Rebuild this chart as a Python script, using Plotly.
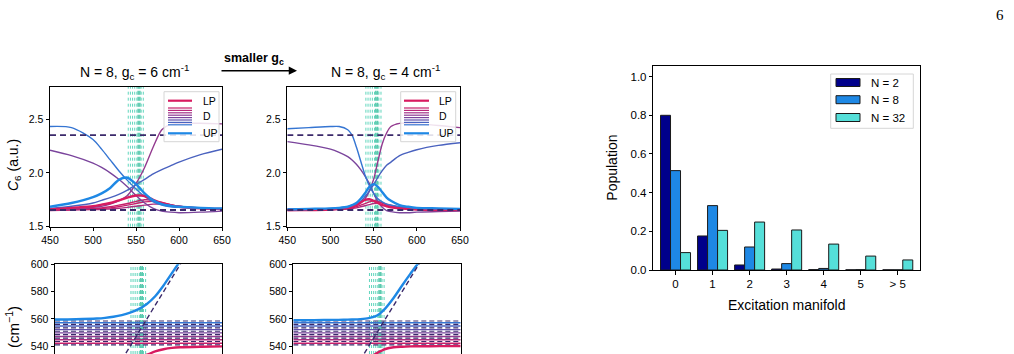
import plotly.graph_objects as go

W, H = 1014, 354
FONT = "Liberation Sans"

# ---------------- data: top panels (C6 vs cavity frequency) ----------------
XT1 = [450, 475, 500, 510, 520, 530, 540, 550, 560, 570, 580, 590, 600, 625, 650]
TL_LP = [1.66, 1.675, 1.69, 1.705, 1.72, 1.745, 1.77, 1.79, 1.785, 1.75, 1.72, 1.70, 1.685, 1.67, 1.665]
TL_UP = [1.685, 1.72, 1.775, 1.81, 1.86, 1.935, 1.955, 1.895, 1.81, 1.745, 1.71, 1.695, 1.685, 1.675, 1.67]
TL_A = [2.43, 2.42, 2.31, 2.22, 2.12, 2.02, 1.93, 1.85, 1.78, 1.73, 1.70, 1.685, 1.68, 1.67, 1.665]
TL_B = [2.21, 2.16, 2.09, 2.05, 2.00, 1.94, 1.87, 1.79, 1.72, 1.67, 1.645, 1.635, 1.63, 1.635, 1.645]
TL_C = [1.66, 1.665, 1.68, 1.69, 1.71, 1.74, 1.79, 1.90, 2.05, 2.24, 2.40, 2.45, 2.46, 2.46, 2.455]
TL_R = [1.67, 1.69, 1.72, 1.745, 1.77, 1.80, 1.84, 1.89, 1.94, 1.99, 2.03, 2.065, 2.10, 2.17, 2.22]
TL_D1 = [1.655, 1.66, 1.67, 1.675, 1.685, 1.70, 1.715, 1.735, 1.75, 1.745, 1.72, 1.70, 1.685, 1.67, 1.665]
TL_D2 = [1.655, 1.66, 1.665, 1.67, 1.675, 1.685, 1.70, 1.715, 1.73, 1.735, 1.725, 1.705, 1.69, 1.67, 1.665]
TL_D3 = [1.65, 1.655, 1.66, 1.66, 1.665, 1.67, 1.68, 1.69, 1.70, 1.71, 1.71, 1.70, 1.69, 1.67, 1.66]

XT2 = [450, 475, 500, 510, 520, 525, 530, 535, 540, 545, 550, 555, 560, 565, 570, 580, 590, 600, 625, 650]
TR_A = [2.41, 2.42, 2.43, 2.43, 2.40, 2.35, 2.24, 2.11, 1.98, 1.88, 1.81, 1.76, 1.73, 1.71, 1.70, 1.685, 1.675, 1.67, 1.665, 1.665]
TR_B = [2.29, 2.26, 2.22, 2.19, 2.15, 2.12, 2.08, 2.03, 1.97, 1.90, 1.81, 1.73, 1.68, 1.65, 1.64, 1.63, 1.63, 1.635, 1.64, 1.645]
TR_C = [1.66, 1.66, 1.665, 1.67, 1.68, 1.69, 1.70, 1.72, 1.76, 1.83, 1.94, 2.11, 2.27, 2.37, 2.43, 2.46, 2.46, 2.455, 2.44, 2.42]
TR_R = [1.665, 1.665, 1.67, 1.675, 1.685, 1.695, 1.71, 1.735, 1.78, 1.83, 1.89, 1.96, 2.02, 2.07, 2.10, 2.16, 2.19, 2.215, 2.255, 2.28]
TR_UP = [1.66, 1.665, 1.67, 1.675, 1.685, 1.70, 1.72, 1.76, 1.81, 1.87, 1.895, 1.87, 1.82, 1.77, 1.74, 1.70, 1.685, 1.675, 1.67, 1.665]
TR_LP = [1.655, 1.655, 1.66, 1.665, 1.675, 1.685, 1.70, 1.725, 1.75, 1.755, 1.74, 1.72, 1.70, 1.69, 1.68, 1.67, 1.665, 1.66, 1.655, 1.655]
TR_D1 = [1.655, 1.655, 1.66, 1.665, 1.67, 1.675, 1.685, 1.70, 1.715, 1.73, 1.74, 1.735, 1.72, 1.70, 1.69, 1.675, 1.665, 1.66, 1.655, 1.655]
TR_D2 = [1.65, 1.655, 1.655, 1.66, 1.665, 1.67, 1.675, 1.685, 1.695, 1.705, 1.715, 1.72, 1.72, 1.71, 1.70, 1.68, 1.67, 1.665, 1.66, 1.655]

C6_MOL = [2.35, 1.655]          # dashed reference levels
X_SPAN = [450, 650]

# ---------------- data: bottom panels (energies) ----------------
XB = [450, 475, 500, 510, 520, 530, 540, 550, 560, 570, 580, 590, 600, 610]
BL_UP = [559.6, 559.8, 560.3, 560.8, 561.6, 562.8, 564.6, 567.2, 571.0, 576.6, 584.5, 593.5, 602.5, 612]
BR_UP = [559.0, 559.1, 559.3, 559.4, 559.6, 559.9, 560.6, 562.5, 567.8, 575.5, 584.5, 593.2, 601.5, 610]
XB_LP = [530, 540, 550, 555, 560, 570, 580, 590, 600, 625, 650]
BL_LP = [522, 527.5, 531.5, 532.8, 533.8, 536.2, 537.8, 538.8, 539.3, 539.7, 539.9]
BR_LP = [525, 531, 535, 536.6, 538, 539.3, 539.7, 539.9, 540.0, 540.1, 540.2]
CAV_X = [450, 650]
CAV_Y = [450, 650]
MOL = [541.0, 543.5, 546.0, 548.5, 551.0, 553.5, 556.0, 558.5]
DARK = [542.2, 544.8, 547.2, 549.8, 552.2, 554.8, 557.2]
V_THICK = [552.5, 554.5]

# ---------------- data: bar chart ----------------
MANIFOLD = ["0", "1", "2", "3", "4", "5", "> 5"]
POP_N2 = [0.80, 0.176, 0.026, 0.005, 0.002, 0.001, 0.001]
POP_N8 = [0.514, 0.333, 0.119, 0.033, 0.008, 0.002, 0.001]
POP_N32 = [0.09, 0.205, 0.248, 0.207, 0.134, 0.072, 0.052]

# ---------------- styles ----------------
C_LP = "#d81b60"
C_UP = "#1e88e5"
C_DARK = "#3b2a6b"
C_GREEN = "#4fd1b5"
D_COLS = ["#c51f6a", "#ad2d7e", "#933a8f", "#7a449c", "#6150ac", "#4a62bf", "#3575d2"]


def PX(px):
    return px / W


def PY(py):
    return 1 - py / H


fig = go.Figure()


def line(x, y, color, width, ax, dash="solid", spline=True):
    fig.add_trace(go.Scatter(
        x=x, y=y, mode="lines",
        line=dict(color=color, width=width, dash=dash,
                  shape="spline" if spline else "linear", smoothing=0.8),
        xaxis="x" + ax, yaxis="y" + ax, showlegend=False, hoverinfo="skip"))


# top-left
for ys, c in [(TL_D3, D_COLS[1]), (TL_D2, D_COLS[0]), (TL_D1, D_COLS[0]),
              (TL_B, D_COLS[3]), (TL_C, D_COLS[2]), (TL_R, D_COLS[5]), (TL_A, D_COLS[6])]:
    line(XT1, ys, c, 1.4, "")
line(XT1, TL_LP, C_LP, 2.4, "")
line(XT1, TL_UP, C_UP, 2.4, "")
for v in C6_MOL:
    line(X_SPAN, [v, v], C_DARK, 1.8, "", dash="6px,4px", spline=False)

# top-right
for ys, c in [(TR_D2, D_COLS[1]), (TR_D1, D_COLS[0]),
              (TR_B, D_COLS[3]), (TR_C, D_COLS[2]), (TR_R, D_COLS[5]), (TR_A, D_COLS[6])]:
    line(XT2, ys, c, 1.4, "2")
line(XT2, TR_LP, C_LP, 2.4, "2")
line(XT2, TR_UP, C_UP, 2.4, "2")
for v in C6_MOL:
    line(X_SPAN, [v, v], C_DARK, 1.8, "2", dash="6px,4px", spline=False)

# bottom panels
for ax, up, lp in [("3", BL_UP, BL_LP), ("4", BR_UP, BR_LP)]:
    for e, c in zip(DARK, D_COLS):
        line(X_SPAN, [e, e], c, 1.4, ax, spline=False)
    for m in MOL:
        line(X_SPAN, [m, m], C_DARK, 1.2, ax, dash="5px,3px", spline=False)
    line(XB, up, C_UP, 2.4, ax)
    line(XB_LP, lp, C_LP, 2.4, ax)
    line(CAV_X, CAV_Y, C_DARK, 1.4, ax, dash="5px,3px", spline=False)

# bar chart
for vals, c, off in [(POP_N2, "#00008b", -0.27), (POP_N8, "#1e88e5", 0.0), (POP_N32, "#55dfd9", 0.27)]:
    fig.add_trace(go.Bar(
        x=list(range(len(MANIFOLD))), y=vals, width=0.27, offset=off - 0.135,
        marker=dict(color=c, line=dict(color="#1a1a1a", width=1)),
        xaxis="x5", yaxis="y5", showlegend=False, hoverinfo="skip"))

# vertical molecular-frequency lines in the four left panels
shapes = []
for ax in ["", "2", "3", "4"]:
    for m in MOL:
        shapes.append(dict(type="line", xref="x" + ax, yref=("y" + ax) + " domain",
                           x0=m, x1=m, y0=0, y1=1, layer="below",
                           line=dict(color=C_GREEN, width=0.9, dash="dot")))
    for m in V_THICK:
        shapes.append(dict(type="line", xref="x" + ax, yref=("y" + ax) + " domain",
                           x0=m, x1=m, y0=0, y1=1, layer="below",
                           line=dict(color="#5cc9ae", width=1.5, dash="4px,2px")))

# legends of top panels (drawn)
for bx0, lx0, lx1, tx in [(164, 168, 192, 201), (400.7, 404, 429, 436.7)]:
    shapes.append(dict(type="rect", xref="paper", yref="paper",
                       x0=PX(bx0), x1=PX(bx0 + 55), y0=PY(141.7), y1=PY(91.7),
                       fillcolor="rgba(255,255,255,0.85)", line=dict(color="#d6d6d6", width=1)))
    shapes.append(dict(type="line", xref="paper", yref="paper", x0=PX(lx0), x1=PX(lx1),
                       y0=PY(100.7), y1=PY(100.7), line=dict(color=C_LP, width=2.2)))
    for i, c in enumerate(["#c51f6a", "#b9277a", "#a43287", "#8e3c93", "#7a449c", "#6150ac", "#4a62bf", "#3575d2"]):
        yy = 108 + i * 2.4
        shapes.append(dict(type="line", xref="paper", yref="paper", x0=PX(lx0), x1=PX(lx1),
                           y0=PY(yy), y1=PY(yy), line=dict(color=c, width=1.2)))
    shapes.append(dict(type="line", xref="paper", yref="paper", x0=PX(lx0), x1=PX(lx1),
                       y0=PY(133.3), y1=PY(133.3), line=dict(color=C_UP, width=2.2)))

# legend of bar chart (drawn)
shapes.append(dict(type="rect", xref="paper", yref="paper",
                   x0=PX(830.7), x1=PX(913.3), y0=PY(128.3), y1=PY(74),
                   fillcolor="white", line=dict(color="#d6d6d6", width=1)))
for py, c in [(82.5, "#00008b"), (99.7, "#1e88e5"), (117.5, "#55dfd9")]:
    shapes.append(dict(type="rect", xref="paper", yref="paper",
                       x0=PX(836), x1=PX(860), y0=PY(py + 4), y1=PY(py - 4),
                       fillcolor=c, line=dict(color="#1a1a1a", width=1)))

ann = []


def text(px, py, s, size=11, xanchor="center", yanchor="middle", angle=0, family=FONT):
    ann.append(dict(x=PX(px), y=PY(py), xref="paper", yref="paper", text=s, showarrow=False,
                    xanchor=xanchor, yanchor=yanchor, textangle=angle,
                    font=dict(family=family, size=size, color="black")))


for tx in [201, 436.7]:
    text(tx, 100.7, "LP", 10.5, xanchor="left")
    text(tx, 116.5, "D", 10.5, xanchor="left")
    text(tx, 133.3, "UP", 10.5, xanchor="left")
for py, s in [(82.5, "N = 2"), (99.7, "N = 8"), (117.5, "N = 32")]:
    text(869, py, s, 11.5, xanchor="left")

text(134, 72, "N = 8, g<sub>c</sub> = 6 cm<sup>-1</sup>", 14)
text(385, 72, "N = 8, g<sub>c</sub> = 4 cm<sup>-1</sup>", 14)
text(254, 59, "<b>smaller g<sub>c</sub></b>", 12.5)
ann.append(dict(x=PX(297), y=PY(70.7), xref="paper", yref="paper", ax=-77, ay=0,
                axref="pixel", ayref="pixel", showarrow=True, arrowhead=2, arrowsize=1.1,
                arrowwidth=1.5, arrowcolor="black", text=""))
text(14, 165, "<i>C</i><sub>6</sub> (a.u.)", 14, angle=-90)
text(12, 327, "(cm<sup>−1</sup>)", 15, angle=-90)
text(611.7, 168, "Population", 14, angle=-90)
text(786.7, 305, "Excitation manifold", 14)
text(1000, 15, "6", 15, family="Liberation Serif")

axis_common = dict(showgrid=False, zeroline=False, ticks="outside", ticklen=3.5, tickwidth=0.8,
                   tickcolor="black", linecolor="black", linewidth=1, showline=True,
                   automargin=False,
                   tickfont=dict(family=FONT, size=10.5, color="black"))

top_y = [PY(226.7), PY(86.7)]
bot_y = [0, PY(264.3)]

layout = dict(
    template="none",
    width=W, height=H, margin=dict(l=0, r=0, t=0, b=0, pad=0), autosize=False,
    paper_bgcolor="white", plot_bgcolor="white", showlegend=False,
    barmode="overlay",
    shapes=shapes, annotations=ann,
    xaxis=dict(axis_common, domain=[PX(50), PX(222)], range=[450, 650], mirror=True,
               tickvals=[450, 500, 550, 600, 650], anchor="y"),
    yaxis=dict(axis_common, domain=top_y, range=[1.5, 2.8], mirror=True,
               tickvals=[1.5, 2.0, 2.5], tickformat=".1f", anchor="x"),
    xaxis2=dict(axis_common, domain=[PX(287.3), PX(460)], range=[450, 650], mirror=True,
                tickvals=[450, 500, 550, 600, 650], anchor="y2"),
    yaxis2=dict(axis_common, domain=top_y, range=[1.5, 2.8], mirror=True,
                tickvals=[1.5, 2.0, 2.5], tickformat=".1f", anchor="x2"),
    xaxis3=dict(axis_common, domain=[PX(55), PX(222)], range=[450, 650], side="top",
                ticks="", showticklabels=False, mirror=False, anchor="y3"),
    yaxis3=dict(axis_common, domain=bot_y, range=[534.35, 600], mirror=True,
                tickvals=[540, 560, 580, 600], anchor="x3"),
    xaxis4=dict(axis_common, domain=[PX(293.3), PX(460.7)], range=[450, 650], side="top",
                ticks="", showticklabels=False, mirror=False, anchor="y4"),
    yaxis4=dict(axis_common, domain=bot_y, range=[534.35, 600], mirror=True,
                tickvals=[540, 560, 580, 600], anchor="x4"),
    xaxis5=dict(axis_common, domain=[PX(653.3), PX(920)], range=[-0.6, 6.6], mirror=True,
                tickvals=list(range(len(MANIFOLD))), ticktext=MANIFOLD, anchor="y5",
                tickfont=dict(family=FONT, size=11.5, color="black")),
    yaxis5=dict(axis_common, domain=[PY(270), PY(66)], range=[0, 1.055], mirror=True,
                tickvals=[0, 0.2, 0.4, 0.6, 0.8, 1.0], tickformat=".1f", anchor="x5",
                tickfont=dict(family=FONT, size=11.5, color="black")),
)
fig.update_layout(**layout)
fig.write_html("out.html")
